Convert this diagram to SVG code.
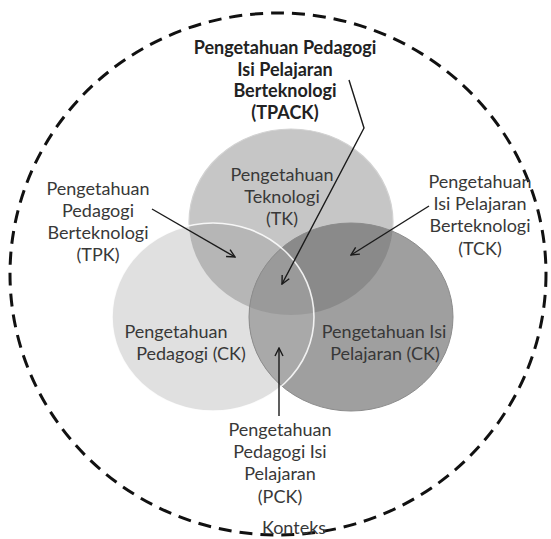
<svg xmlns="http://www.w3.org/2000/svg" width="551" height="539" viewBox="0 0 551 539">
<style>
.t{font-family:Lato,"Open Sans","Liberation Sans",sans-serif;font-size:18px;fill:#383838;text-anchor:middle}
.b{font-weight:bold;fill:#222}
.ln{fill:none;stroke:#1a1a1a;stroke-width:1.4}
</style>
<defs>
<clipPath id="cTK"><ellipse cx="291" cy="222" rx="102" ry="93"/></clipPath>
<clipPath id="cPK"><ellipse cx="213" cy="317" rx="101" ry="94"/></clipPath>
<clipPath id="cCK"><ellipse cx="351" cy="317" rx="102" ry="94"/></clipPath>
<marker id="ah" viewBox="0 0 10 10" refX="9" refY="5" markerWidth="10" markerHeight="10" markerUnits="userSpaceOnUse" orient="auto">
<path d="M1,1 L9,5 L1,9" fill="none" stroke="#1a1a1a" stroke-width="1.4"/>
</marker>
</defs>
<rect width="551" height="539" fill="#fff"/>
<g id="context">
<ellipse cx="278" cy="274" rx="268" ry="261" fill="none" stroke="#111" stroke-width="3" stroke-dasharray="13 8"/>
<text class="t" x="294" y="534">Konteks</text>
</g>
<g id="TK">
<ellipse cx="291" cy="222" rx="102" ry="93" fill="#c6c6c6" stroke="#d2d2d2" stroke-width="1.2"/>
</g>
<g id="PK">
<ellipse cx="213" cy="317" rx="101" ry="94" fill="#e0e0e0"/>
</g>
<g id="TPK-region" clip-path="url(#cPK)">
<ellipse cx="291" cy="222" rx="102" ry="93" fill="#b6b6b6"/>
</g>
<g id="CK">
<ellipse cx="351" cy="317" rx="102" ry="94" fill="#9f9f9f"/>
</g>
<g id="overlaps" clip-path="url(#cCK)">
<ellipse cx="291" cy="222" rx="102" ry="93" fill="#8a8a8a"/>
<ellipse cx="213" cy="317" rx="101" ry="94" fill="#a9a9a9"/>
<g clip-path="url(#cTK)"><ellipse cx="213" cy="317" rx="101" ry="94" fill="#9a9a9a"/></g>
</g>
<g id="outlines">
<ellipse cx="351" cy="317" rx="102" ry="94" fill="none" stroke="#8c8c8c" stroke-width="1"/>
<ellipse cx="213" cy="317" rx="101" ry="94" fill="none" stroke="#fff" stroke-width="1.6" stroke-opacity="0.85"/>
</g>
<g id="labels-main">
<text class="t" x="282" y="181">Pengetahuan</text>
<text class="t" x="282" y="203">Teknologi</text>
<text class="t" x="282" y="225">(TK)</text>
<text class="t" x="176" y="338">Pengetahuan</text>
<text class="t" x="191" y="360">Pedagogi (CK)</text>
<text class="t" x="384" y="338">Pengetahuan Isi</text>
<text class="t" x="385" y="360">Pelajaran (CK)</text>
</g>
<g id="TPACK">
<text class="t b" x="285" y="54">Pengetahuan Pedagogi</text>
<text class="t b" x="285" y="76">Isi Pelajaran</text>
<text class="t b" x="285" y="97">Berteknologi</text>
<text class="t b" x="285" y="119">(TPACK)</text>
</g>
<g id="TPK">
<text class="t" x="98" y="195">Pengetahuan</text>
<text class="t" x="98" y="217">Pedagogi</text>
<text class="t" x="98" y="239">Berteknologi</text>
<text class="t" x="98" y="261">(TPK)</text>
</g>
<g id="TCK">
<text class="t" x="480" y="188">Pengetahuan</text>
<text class="t" x="480" y="210">Isi Pelajaran</text>
<text class="t" x="480" y="232">Berteknologi</text>
<text class="t" x="480" y="255">(TCK)</text>
</g>
<g id="PCK">
<text class="t" x="280" y="436">Pengetahuan</text>
<text class="t" x="280" y="458">Pedagogi Isi</text>
<text class="t" x="280" y="480">Pelajaran</text>
<text class="t" x="280" y="503">(PCK)</text>
</g>
<g id="connectors">
<path class="ln" d="M152,209 L235,257" marker-end="url(#ah)"/>
<path class="ln" d="M429,206 L351,255" marker-end="url(#ah)"/>
<path class="ln" d="M349,80 L364,128 L282,284" marker-end="url(#ah)"/>
<path class="ln" d="M279,416 L279,348" marker-end="url(#ah)"/>
</g>
</svg>
